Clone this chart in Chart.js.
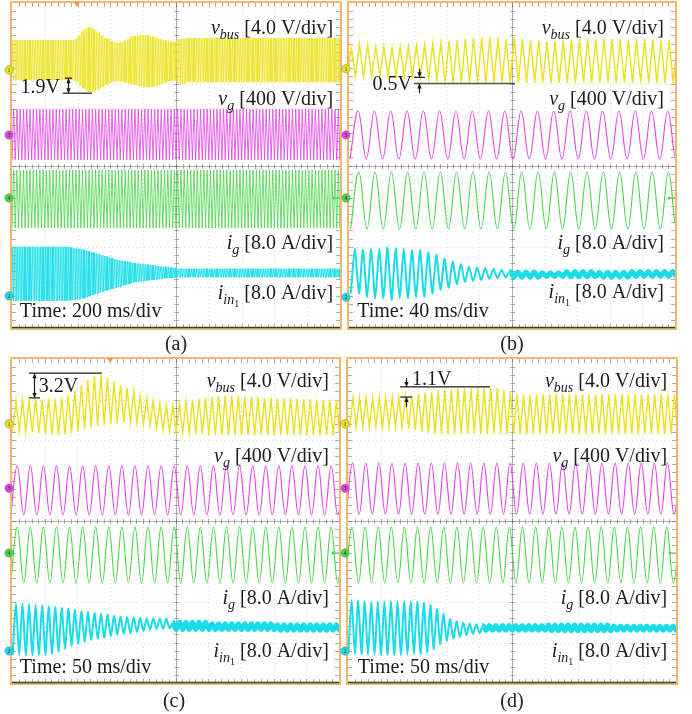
<!DOCTYPE html>
<html lang="en">
<head>
<meta charset="UTF-8">
<title>Oscilloscope captures</title>
<style>
  body { margin: 0; background: #fff; width: 692px; height: 714px; position: relative; overflow: hidden; }
  canvas { position: absolute; }
  .cap { position: absolute; font: 20px "Liberation Serif", "Times New Roman", serif; color: #222;
         transform: translate(-50%, -50%); }
</style>
<script src="https://cdn.jsdelivr.net/npm/chart.js"></script>
</head>
<body>
<canvas id="chartA" width="346" height="334" style="left:0;top:0"></canvas>
<canvas id="chartB" width="346" height="334" style="left:340px;top:0"></canvas>
<canvas id="chartC" width="346" height="334" style="left:0;top:355px"></canvas>
<canvas id="chartD" width="346" height="334" style="left:340px;top:355px"></canvas>
<div class="cap" style="left:176px;top:343px">(a)</div>
<div class="cap" style="left:512px;top:343px">(b)</div>
<div class="cap" style="left:174px;top:700px">(c)</div>
<div class="cap" style="left:512px;top:700px">(d)</div>

<script>
// ---------------- data (screen divisions: x 0..10, y 0..8) ----------------
const captions = ['(a)', '(b)', '(c)', '(d)'];
const timeDiv = ['200 ms/div', '40 ms/div', '50 ms/div', '50 ms/div'];
const stepNotes = ['1.9V', '0.5V', '3.2V', '1.1V'];
const channelScale = ['[4.0 V/div]', '[400 V/div]', '[8.0 A/div]', '[8.0 A/div]'];

// cycles across the screen per channel [vbus, vg, ig, iin1]
const cyclesA = [200, 100, 100, 200];
const cyclesB = [40, 20, 20, 40];
const cyclesC = [50, 25, 25, 50];
const cyclesD = [50, 25, 25, 50];

// time of the first peak (div) per channel
const startA = [0.02, 0.05, 0.05, 0.02];
const startB = [0.07, 0.28, 0.30, 0.18];
const startC = [0.12, 0.16, 0.16, 0.12];
const startD = [0.15, 0.14, 0.12, 0.11];

// channel ground markers (div)
const groundA = [6.35, 4.75, 3.20, 0.79];
const groundB = [6.38, 4.75, 3.20, 0.76];
const groundC = [6.40, 4.81, 3.21, 0.79];
const groundD = [6.40, 4.81, 3.21, 0.79];

// trigger position on top edge (div)
const triggerPos = [1.98, null, 3.0, null];

// runs of [cycles, peak, trough]
const vbusA = [[38, 7.09, 6.10],
  [2, 7.12, 6.05], [2, 7.20, 5.97], [2, 7.30, 5.90], [2, 7.37, 5.84], [2, 7.41, 5.81], [2, 7.38, 5.82],
  [2, 7.32, 5.85], [2, 7.27, 5.88], [2, 7.20, 5.93], [2, 7.14, 5.98], [2, 7.10, 6.03], [2, 7.06, 6.06],
  [2, 7.03, 6.07], [2, 7.02, 6.07], [2, 7.04, 6.06], [2, 7.07, 6.04], [2, 7.12, 6.02], [2, 7.17, 6.00],
  [2, 7.19, 5.98], [2, 7.20, 5.96], [2, 7.21, 5.95], [2, 7.21, 5.94], [2, 7.20, 5.93], [2, 7.18, 5.94],
  [2, 7.16, 5.96], [2, 7.14, 5.98], [2, 7.11, 6.01], [2, 7.09, 6.04], [2, 7.07, 6.07], [2, 7.05, 6.09],
  [2, 7.05, 6.09], [2, 7.10, 6.03], [2, 7.12, 5.99], [2, 7.13, 6.02],
  [94, 7.14, 6.05]];
const vgA = [[100, 5.39, 4.14]];
const igA = [[100, 3.89, 2.46]];
const iinA = [[34, 2.00, 0.67],
  [2, 1.99, 0.68], [2, 1.97, 0.69], [2, 1.96, 0.70], [2, 1.95, 0.71], [2, 1.93, 0.73], [2, 1.91, 0.75],
  [2, 1.89, 0.78], [2, 1.86, 0.81], [2, 1.84, 0.84], [2, 1.82, 0.87], [2, 1.79, 0.90], [2, 1.77, 0.92],
  [2, 1.74, 0.94], [2, 1.72, 0.96], [2, 1.69, 0.99], [2, 1.67, 1.01], [2, 1.66, 1.04], [2, 1.64, 1.06],
  [2, 1.63, 1.08], [2, 1.61, 1.11], [2, 1.60, 1.13], [2, 1.59, 1.14], [2, 1.58, 1.15], [2, 1.57, 1.16],
  [2, 1.56, 1.17], [2, 1.55, 1.18], [2, 1.54, 1.19], [2, 1.53, 1.20], [2, 1.52, 1.21], [2, 1.51, 1.22],
  [2, 1.50, 1.23], [2, 1.49, 1.23], [2, 1.48, 1.24],
  [100, 1.46, 1.25]];

const vbusB = [[1, 6.88, 6.18], [1, 6.99, 6.18], [1, 6.97, 6.18], [2, 6.93, 6.18], [1, 6.90, 6.18],
  [2, 6.93, 6.18], [1, 6.94, 6.18], [1, 6.98, 6.13], [1, 7.01, 6.09], [1, 7.03, 6.05], [1, 7.06, 6.03],
  [1, 7.09, 6.03], [1, 7.12, 6.03], [2, 7.15, 6.03], [1, 7.16, 6.03], [1, 7.14, 6.03], [1, 7.12, 6.03],
  [1, 7.16, 6.03], [1, 7.11, 6.03], [1, 7.09, 6.03], [1, 7.07, 6.03], [1, 7.05, 6.03], [1, 7.06, 6.03],
  [1, 7.08, 6.03], [1, 7.10, 6.03], [2, 7.11, 6.03], [1, 7.10, 6.03], [3, 7.11, 6.03], [2, 7.10, 6.03],
  [1, 7.11, 6.03], [1, 7.10, 6.03], [2, 7.09, 6.03]];
const vgB = [[20, 5.34, 4.16]];
const igB = [[20, 3.84, 2.44]];
const iinB = [[1, 1.96, 0.85], [1, 1.92, 0.77], [1, 1.94, 0.73], [1, 1.96, 0.73], [1, 1.98, 0.69],
  [2, 1.96, 0.73], [1, 1.92, 0.75], [1, 1.92, 0.77], [1, 1.86, 0.85], [1, 1.80, 0.94], [1, 1.71, 0.99],
  [1, 1.63, 1.08], [1, 1.57, 1.14], [1, 1.51, 1.16], [1, 1.49, 1.18], [1, 1.47, 1.21], [1, 1.45, 1.22],
  [1, 1.43, 1.24], [1, 1.40, 1.25], [3, 1.38, 1.25], [3, 1.36, 1.27], [4, 1.39, 1.26], [4, 1.37, 1.25],
  [6, 1.39, 1.27]];

const vbusC = [[1, 6.97, 6.21], [1, 7.00, 6.20], [1, 6.98, 6.19], [1, 7.02, 6.17], [1, 7.00, 6.15],
  [1, 7.03, 6.13], [1, 7.01, 6.12], [1, 7.06, 6.13], [1, 7.11, 6.17], [1, 7.23, 6.22], [1, 7.36, 6.27],
  [1, 7.48, 6.31], [1, 7.58, 6.34], [1, 7.62, 6.37], [1, 7.54, 6.39], [1, 7.44, 6.41], [1, 7.36, 6.43],
  [1, 7.28, 6.43], [1, 7.19, 6.42], [1, 7.09, 6.38], [1, 7.03, 6.35], [1, 6.97, 6.30], [1, 6.90, 6.24],
  [1, 6.86, 6.21], [1, 6.86, 6.20], [1, 6.90, 6.18], [1, 6.95, 6.16], [1, 6.97, 6.15], [1, 7.01, 6.14],
  [1, 7.04, 6.12], [1, 7.07, 6.12], [1, 7.08, 6.12], [3, 7.09, 6.12], [1, 7.08, 6.12], [1, 7.07, 6.12],
  [1, 7.06, 6.12], [2, 7.04, 6.12], [4, 7.03, 6.12], [2, 7.01, 6.12], [1, 7.00, 6.12], [1, 6.99, 6.12],
  [1, 7.00, 6.12], [1, 6.99, 6.12]];
const vgC = [[25, 5.36, 4.15]];
const igC = [[25, 3.85, 2.47]];
const iinC = [[2, 1.97, 0.69], [1, 1.95, 0.69], [1, 1.93, 0.69], [1, 1.92, 0.70], [1, 1.89, 0.72],
  [1, 1.87, 0.78], [1, 1.85, 0.85], [1, 1.83, 0.92], [1, 1.80, 0.97], [1, 1.77, 1.02], [1, 1.75, 1.06],
  [1, 1.73, 1.09], [1, 1.71, 1.12], [1, 1.68, 1.16], [1, 1.66, 1.19], [1, 1.64, 1.21], [1, 1.63, 1.23],
  [1, 1.62, 1.26], [1, 1.61, 1.28], [1, 1.60, 1.31], [1, 1.60, 1.33], [1, 1.59, 1.34], [1, 1.59, 1.35],
  [6, 1.50, 1.32], [10, 1.46, 1.32], [10, 1.44, 1.30]];

const vbusD = [[8, 7.05, 6.31], [1, 7.08, 6.28], [1, 7.11, 6.24], [1, 7.14, 6.20], [1, 7.17, 6.17],
  [1, 7.19, 6.15], [1, 7.22, 6.15], [1, 7.24, 6.15], [1, 7.26, 6.15], [7, 7.28, 6.15], [1, 7.24, 6.15],
  [1, 7.19, 6.15], [25, 7.13, 6.15]];
const vgD = [[25, 5.43, 4.17]];
const igD = [[25, 3.85, 2.47]];
const iinD = [[1, 2.05, 0.73], [1, 2.03, 0.71], [3, 2.01, 0.69], [1, 2.02, 0.69], [1, 2.03, 0.69],
  [1, 2.02, 0.69], [1, 2.01, 0.70], [1, 2.01, 0.71], [1, 2.01, 0.72], [1, 1.98, 0.76], [1, 1.92, 0.84],
  [1, 1.82, 0.96], [1, 1.70, 1.05], [1, 1.58, 1.10], [1, 1.52, 1.14], [1, 1.49, 1.18], [1, 1.47, 1.21],
  [1, 1.45, 1.23], [10, 1.42, 1.30], [10, 1.43, 1.29], [10, 1.41, 1.30]];

// ---------------- drawing ----------------
const FONT = '"Liberation Serif", "Times New Roman", serif';
const COLORS = ['#ece21c', '#e340e6', '#46d646', '#18dde8'];
const DENSE_COLORS = ['rgba(236,226,28,0.72)', 'rgba(227,64,230,0.8)', 'rgba(70,214,70,0.8)', 'rgba(24,221,232,0.8)'];
const MARK_NUM = ['1', '3', '4', '2'];

// peaks and troughs in turn, the library's spline draws the curve between them
function wave(start, cycles, runs) {
  const P = 10 / cycles;
  const pts = [{x: start - P / 2, y: runs[0][2]}];
  let t = start;
  runs.forEach(([n, hi, lo]) => {
    for (let j = 0; j < n; j++) {
      pts.push({x: t, y: hi});
      pts.push({x: t + P / 2, y: lo});
      t += P;
    }
  });
  pts.push({x: t, y: runs[runs.length - 1][1]});
  return pts;
}

function drawRich(ctx, parts, x, y, align) {
  const fonts = {n: '20px ' + FONT, i: 'italic 20px ' + FONT, s: 'italic 14px ' + FONT, ss: '10px ' + FONT};
  const dys = {n: 0, i: 0, s: 5, ss: 8};
  let w = 0;
  parts.forEach(p => { ctx.font = fonts[p[1]]; w += ctx.measureText(p[0]).width; });
  let cx = align === 'right' ? x - w : x;
  parts.forEach(p => {
    ctx.font = fonts[p[1]];
    ctx.fillText(p[0], cx, y + dys[p[1]]);
    cx += ctx.measureText(p[0]).width;
  });
}

function arrowHead(ctx, x, y, dir) {
  ctx.beginPath();
  ctx.moveTo(x, y);
  ctx.lineTo(x - 2.2, y - dir * 5);
  ctx.lineTo(x + 2.2, y - dir * 5);
  ctx.closePath();
  ctx.fill();
}

const scopePlugin = {
  id: 'scope',
  beforeDatasetsDraw(chart) {
    const {ctx, chartArea: a} = chart;
    const sx = chart.scales.x, sy = chart.scales.y;
    ctx.save();
    ctx.lineWidth = 1;
    ctx.strokeStyle = 'rgba(80,80,80,0.2)';
    ctx.setLineDash([1, 3]);
    ctx.beginPath();
    for (let i = 1; i < 10; i++) {
      if (i === 5) continue;
      const X = Math.round(sx.getPixelForValue(i)) + 0.5;
      ctx.moveTo(X, a.top); ctx.lineTo(X, a.bottom);
    }
    for (let j = 1; j < 8; j++) {
      if (j === 4) continue;
      const Y = Math.round(sy.getPixelForValue(j)) + 0.5;
      ctx.moveTo(a.left, Y); ctx.lineTo(a.right, Y);
    }
    ctx.stroke();
    ctx.setLineDash([]);

    const cx = Math.round(sx.getPixelForValue(5)) + 0.5;
    const cy = Math.round(sy.getPixelForValue(4)) + 0.5;
    ctx.strokeStyle = 'rgba(80,80,80,0.45)';
    ctx.beginPath();
    ctx.moveTo(cx, a.top); ctx.lineTo(cx, a.bottom);
    ctx.moveTo(a.left, cy); ctx.lineTo(a.right, cy);
    for (let k = 1; k < 50; k++) {
      const X = Math.round(sx.getPixelForValue(k * 0.2)) + 0.5;
      ctx.moveTo(X, cy - 2.5); ctx.lineTo(X, cy + 2.5);
      ctx.moveTo(X, a.top); ctx.lineTo(X, a.top + 4);
      ctx.moveTo(X, a.bottom - 4); ctx.lineTo(X, a.bottom);
    }
    for (let k = 1; k < 40; k++) {
      const Y = Math.round(sy.getPixelForValue(k * 0.2)) + 0.5;
      ctx.moveTo(cx - 2.5, Y); ctx.lineTo(cx + 2.5, Y);
      ctx.moveTo(a.left, Y); ctx.lineTo(a.left + 4, Y);
      ctx.moveTo(a.right - 4, Y); ctx.lineTo(a.right, Y);
    }
    ctx.stroke();
    ctx.restore();
  },
  afterDatasetsDraw(chart, args, opts) {
    const {ctx, chartArea: a} = chart;
    const sx = chart.scales.x, sy = chart.scales.y;
    ctx.save();
    // frame
    ctx.strokeStyle = '#f1b76a';
    ctx.lineWidth = 2;
    ctx.strokeRect(a.left - 1, a.top - 1, a.right - a.left + 2, a.bottom - a.top + 2);
    ctx.strokeStyle = '#3c3c3c';
    ctx.lineWidth = 1.5;
    ctx.beginPath(); ctx.moveTo(a.left, a.bottom - 0.5); ctx.lineTo(a.right, a.bottom - 0.5); ctx.stroke();

    // trigger marker
    if (opts.trigger != null) {
      const X = sx.getPixelForValue(opts.trigger);
      ctx.fillStyle = '#f09a3a';
      ctx.beginPath(); ctx.moveTo(X - 3, a.top - 1); ctx.lineTo(X + 3, a.top - 1); ctx.lineTo(X, a.top + 4);
      ctx.closePath(); ctx.fill();
    }

    // channel markers
    opts.ground.forEach((g, i) => {
      const Y = sy.getPixelForValue(g);
      ctx.fillStyle = COLORS[i];
      ctx.strokeStyle = 'rgba(120,120,120,0.6)';
      ctx.lineWidth = 0.8;
      ctx.beginPath(); ctx.arc(a.left - 3, Y, 4.2, 0, Math.PI * 2); ctx.fill(); ctx.stroke();
      ctx.fillStyle = '#333';
      ctx.font = '6px ' + FONT;
      ctx.textAlign = 'center';
      ctx.fillText(MARK_NUM[i], a.left - 3, Y + 2);
      ctx.textAlign = 'left';
    });
    // ig trigger level at right edge
    const gy = sy.getPixelForValue(opts.ground[2]);
    ctx.fillStyle = COLORS[2];
    ctx.beginPath(); ctx.arc(a.right - 6, gy, 1.6, 0, Math.PI * 2); ctx.fill();
    ctx.fillRect(a.right - 6, gy - 0.5, 6, 1);

    // channel labels
    ctx.fillStyle = '#1c1c1c';
    const L = opts.labels;
    const X = sx.getPixelForValue(L.right);
    drawRich(ctx, [['v', 'i'], ['bus', 's'], [' ' + channelScale[0], 'n']], X, sy.getPixelForValue(L.y[0]) + 5, 'right');
    drawRich(ctx, [['v', 'i'], ['g', 's'], [' ' + channelScale[1], 'n']], X, sy.getPixelForValue(L.y[1]) + 5, 'right');
    drawRich(ctx, [['i', 'i'], ['g', 's'], [' ' + channelScale[2], 'n']], X, sy.getPixelForValue(L.y[2]) + 5, 'right');
    drawRich(ctx, [['i', 'i'], ['in', 's'], ['1', 'ss'], [' ' + channelScale[3], 'n']], X, sy.getPixelForValue(L.y[3]) + 5, 'right');
    drawRich(ctx, [['Time: ' + opts.time, 'n']], sx.getPixelForValue(L.timeX), sy.getPixelForValue(L.y[4]) + 6, 'left');

    // step annotation
    ctx.strokeStyle = '#1c1c1c';
    ctx.fillStyle = '#1c1c1c';
    ctx.lineWidth = 1.2;
    opts.notes.forEach(n => {
      if (n.type === 'line') {
        ctx.save();
        if (n.color) { ctx.strokeStyle = n.color; ctx.lineWidth = 1.6; }
        ctx.beginPath();
        ctx.moveTo(sx.getPixelForValue(n.x1), sy.getPixelForValue(n.y));
        ctx.lineTo(sx.getPixelForValue(n.x2), sy.getPixelForValue(n.y));
        ctx.stroke();
        ctx.restore();
      } else if (n.type === 'arrow' || n.type === 'darrow') {
        const ax = Math.round(sx.getPixelForValue(n.x)) + 0.5;
        const y1 = sy.getPixelForValue(n.y1), y2 = sy.getPixelForValue(n.y2);
        ctx.beginPath(); ctx.moveTo(ax, y1); ctx.lineTo(ax, y2); ctx.stroke();
        arrowHead(ctx, ax, y2, y2 > y1 ? 1 : -1);
        if (n.type === 'darrow') arrowHead(ctx, ax, y1, y1 > y2 ? 1 : -1);
      } else if (n.type === 'text') {
        drawRich(ctx, [[n.text, 'n']], sx.getPixelForValue(n.x), sy.getPixelForValue(n.y) + 7, n.align);
      }
    });
    ctx.restore();
  }
};

const setups = [
  { id: 'chartA', idx: 0, cycles: cyclesA, start: startA, runs: [vbusA, vgA, igA, iinA], ground: groundA,
    dense: true, thickFrom: null,
    padding: {left: 12, top: 3, right: 6, bottom: 6},
    labels: {right: 9.79, timeX: 0.24, y: [7.36, 5.61, 2.07, 0.84, 0.42]},
    notes: [
      {type: 'line', x1: 1.62, x2: 1.83, y: 6.15},
      {type: 'line', x1: 1.55, x2: 2.44, y: 5.78},
      {type: 'darrow', x: 1.71, y1: 6.15, y2: 5.78},
      {type: 'text', text: stepNotes[0], x: 1.46, y: 5.96, align: 'right'}
    ] },
  { id: 'chartB', idx: 1, cycles: cyclesB, start: startB, runs: [vbusB, vgB, igB, iinB], ground: groundB,
    dense: false, thickFrom: 4.9,
    padding: {left: 9, top: 3, right: 11, bottom: 6},
    labels: {right: 9.66, timeX: 0.25, y: [7.36, 5.61, 2.07, 0.86, 0.42]},
    notes: [
      {type: 'line', x1: 1.99, x2: 2.33, y: 6.17},
      {type: 'line', x1: 1.99, x2: 5.09, y: 6.02, color: '#555'},
      {type: 'arrow', x: 2.15, y1: 6.38, y2: 6.17},
      {type: 'arrow', x: 2.15, y1: 5.78, y2: 6.02},
      {type: 'text', text: stepNotes[1], x: 1.93, y: 6.03, align: 'right'}
    ] },
  { id: 'chartC', idx: 2, cycles: cyclesC, start: startC, runs: [vbusC, vgC, igC, iinC], ground: groundC,
    dense: false, thickFrom: 4.9,
    padding: {left: 12, top: 4, right: 7, bottom: 6},
    labels: {right: 9.69, timeX: 0.24, y: [7.43, 5.58, 2.07, 0.77, 0.40]},
    notes: [
      {type: 'line', x1: 0.52, x2: 2.75, y: 7.65},
      {type: 'line', x1: 0.52, x2: 0.86, y: 7.04},
      {type: 'darrow', x: 0.67, y1: 7.65, y2: 7.04},
      {type: 'text', text: stepNotes[2], x: 0.82, y: 7.36, align: 'left'}
    ] },
  { id: 'chartD', idx: 3, cycles: cyclesD, start: startD, runs: [vbusD, vgD, igD, iinD], ground: groundD,
    dense: false, thickFrom: 4.1,
    padding: {left: 8, top: 4, right: 10, bottom: 6},
    labels: {right: 9.73, timeX: 0.30, y: [7.43, 5.58, 2.07, 0.77, 0.40]},
    notes: [
      {type: 'line', x1: 1.59, x2: 4.33, y: 7.31},
      {type: 'line', x1: 1.59, x2: 1.95, y: 7.06},
      {type: 'arrow', x: 1.77, y1: 7.53, y2: 7.31},
      {type: 'arrow', x: 1.77, y1: 6.81, y2: 7.06},
      {type: 'text', text: stepNotes[3], x: 1.95, y: 7.53, align: 'left'}
    ] }
];

setups.forEach(s => {
  const widths = s.dense ? [1, 1, 1, 1] : [1.4, 1.1, 1.1, 2];
  const tensions = s.dense ? [0, 0, 0, 0] : [0, 0.4, 0.4, 0.25];
  const datasets = s.runs.map((runs, i) => {
    const ds = {
      data: wave(s.start[i], s.cycles[i], runs),
      borderColor: s.dense ? DENSE_COLORS[i] : COLORS[i],
      borderWidth: widths[i],
      tension: tensions[i],
      pointRadius: 0,
      fill: false,
      clip: 0
    };
    if (i === 3 && s.thickFrom != null) {
      const tf = s.thickFrom, w = widths[i];
      ds.segment = { borderWidth: c => (c.p0.parsed.x >= tf ? 5 : w) };
    }
    return ds;
  });
  new Chart(document.getElementById(s.id), {
    type: 'line',
    data: { datasets },
    options: {
      responsive: false,
      animation: false,
      events: [],
      parsing: false,
      layout: { padding: s.padding },
      scales: {
        x: { type: 'linear', min: 0, max: 10, display: false },
        y: { type: 'linear', min: 0, max: 8, display: false }
      },
      plugins: {
        legend: { display: false },
        tooltip: { enabled: false },
        scope: { ground: s.ground, trigger: triggerPos[s.idx], time: timeDiv[s.idx], labels: s.labels, notes: s.notes }
      }
    },
    plugins: [scopePlugin]
  });
});
</script>
</body>
</html>
